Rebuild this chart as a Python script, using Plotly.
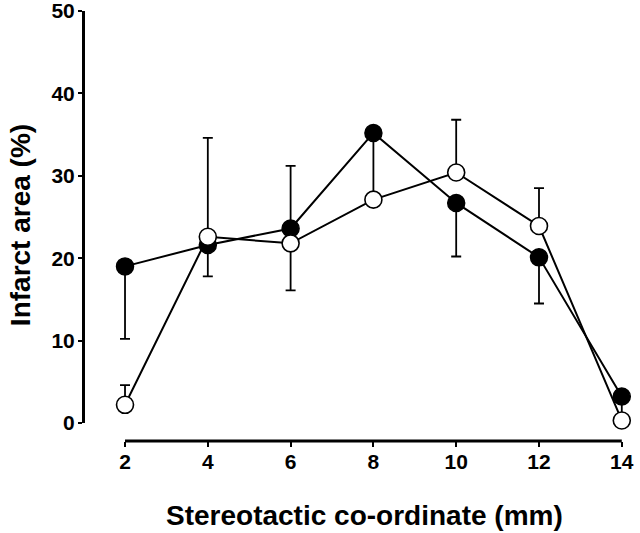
import plotly.graph_objects as go

x_mm = [2, 4, 6, 8, 10, 12, 14]
filled_vals = [19.0, 21.6, 23.6, 35.2, 26.7, 20.1, 3.2]
filled_err_plus = [0, 0, 7.6, 0, 0, 0, 0]
filled_err_minus = [8.8, 3.8, 0, 8.1, 6.5, 5.6, 2.5]
open_vals = [2.2, 22.6, 21.8, 27.1, 30.4, 23.9, 0.3]
open_err_plus = [2.4, 12.0, 0, 0, 6.4, 4.6, 0]
open_err_minus = [0, 0, 5.7, 0, 0, 0, 0]
y_ticks = [0, 10, 20, 30, 40, 50]
x_ticks = [2, 4, 6, 8, 10, 12, 14]
x_title = "Stereotactic co-ordinate (mm)"
y_title = "Infarct area (%)"

fig = go.Figure()
fig.add_trace(go.Scatter(
    x=x_mm, y=filled_vals, mode="lines+markers",
    line=dict(color="black", width=2),
    marker=dict(size=17, color="black", line=dict(color="black", width=1.5)),
    error_y=dict(type="data", symmetric=False, array=filled_err_plus,
                 arrayminus=filled_err_minus, color="black", thickness=1.8, width=5),
    cliponaxis=False, showlegend=False,
))
fig.add_trace(go.Scatter(
    x=x_mm, y=open_vals, mode="lines+markers",
    line=dict(color="black", width=2),
    marker=dict(size=17, color="white", line=dict(color="black", width=1.6)),
    error_y=dict(type="data", symmetric=False, array=open_err_plus,
                 arrayminus=open_err_minus, color="black", thickness=1.8, width=5),
    cliponaxis=False, showlegend=False,
))

font_family = "Liberation Sans, Arial, sans-serif"
fig.update_layout(
    width=640, height=533,
    margin=dict(l=83, r=12, t=11, b=92),
    plot_bgcolor="white", paper_bgcolor="white",
    font=dict(family=font_family, color="black"),
    xaxis=dict(
        domain=[0.0657, 1], range=[1.85, 14.15], anchor="free", position=0,
        tickvals=x_ticks, ticktext=[str(v) for v in x_ticks],
        showline=False,
        ticks="outside", ticklen=5, tickwidth=2, tickcolor="black",
        showgrid=False, zeroline=False, automargin=False,
        ticklabeloverflow="allow",
        tickfont=dict(size=21, weight="bold", family=font_family),
        ticklabelstandoff=-3,
    ),
    yaxis=dict(
        domain=[0.042, 1], range=[0, 50], anchor="free", position=0,
        tickvals=y_ticks, ticktext=[str(v) for v in y_ticks],
        showline=True, linecolor="black", linewidth=3,
        ticks="outside", ticklen=4, tickwidth=2, tickcolor="black",
        showgrid=False, zeroline=False, automargin=False,
        ticklabeloverflow="allow",
        tickfont=dict(size=21, weight="bold", family=font_family),
        ticklabelstandoff=-1,
    ),
    shapes=[
        dict(type="line", xref="x", yref="paper",
             x0=x_ticks[0], x1=x_ticks[-1], y0=0, y1=0,
             line=dict(color="black", width=3)),
    ],
    annotations=[
        dict(text=x_title, xref="paper", yref="paper", x=0.5174, y=0,
             xanchor="center", yanchor="middle", yshift=-74, showarrow=False,
             font=dict(size=28, weight="bold", family=font_family)),
        dict(text=y_title, xref="paper", yref="paper", x=-0.1156, y=0.502,
             xanchor="center", yanchor="middle", textangle=-90, showarrow=False,
             font=dict(size=28, weight="bold", family=font_family)),
    ],
)
fig.write_html("out.html", config={"displayModeBar": False},
               post_script="document.body.style.margin='0';")
